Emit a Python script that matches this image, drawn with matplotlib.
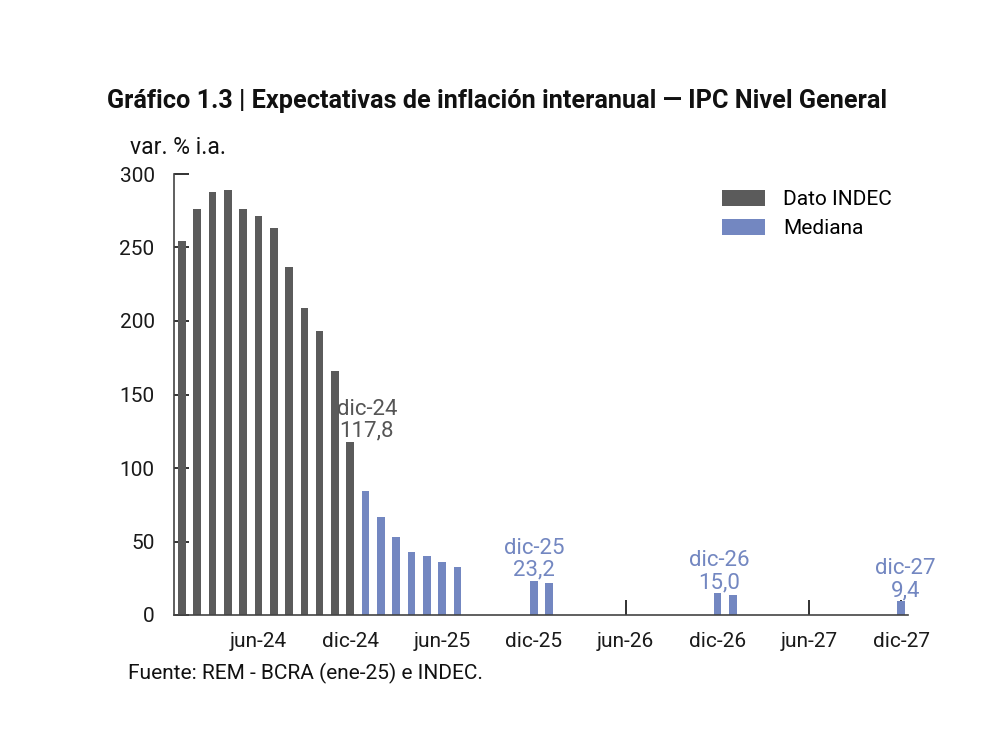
import numpy as np
import pandas as pd
import matplotlib
matplotlib.use("Agg")
import matplotlib.pyplot as plt
from matplotlib.patches import Patch

plt.rcParams["font.family"] = ["Roboto", "DejaVu Sans"]

# Dato INDEC, ene-24 a dic-24
indec_months = ["2024-01", "2024-02", "2024-03", "2024-04", "2024-05", "2024-06",
                "2024-07", "2024-08", "2024-09", "2024-10", "2024-11", "2024-12"]
indec_vals = [254.2, 276.2, 287.9, 289.4, 276.4, 271.5, 263.4, 236.7, 209.0, 193.0, 166.0, 117.8]

# Mediana REM
rem_months = ["2025-01", "2025-02", "2025-03", "2025-04", "2025-05", "2025-06", "2025-07",
              "2025-12", "2026-01", "2026-12", "2027-01", "2027-12"]
rem_vals = [84.5, 66.8, 53.2, 43.0, 40.1, 36.2, 32.8, 23.2, 22.0, 15.0, 13.8, 9.4]

tick_months = ["2024-06", "2024-12", "2025-06", "2025-12", "2026-06", "2026-12", "2027-06", "2027-12"]
tick_labels = ["jun-24", "dic-24", "jun-25", "dic-25", "jun-26", "dic-26", "jun-27", "dic-27"]

# etiquetas sobre barras: (mes, texto, serie)
notes = [("2024-12", "dic-24\n117,8", "indec"),
         ("2025-12", "dic-25\n23,2", "rem"),
         ("2026-12", "dic-26\n15,0", "rem"),
         ("2027-12", "dic-27\n9,4", "rem")]

GRAY = "#5b5b5b"
BLUE = "#7387c1"

base = pd.Period("2024-01", freq="M")


def mi(s):
    return (pd.Period(s, freq="M") - base).n


x_indec = np.array([mi(m) for m in indec_months])
x_rem = np.array([mi(m) for m in rem_months])
x_ticks = [mi(m) for m in tick_months]

fig = plt.figure(figsize=(9.92, 7.44), dpi=100)
ax = fig.add_axes([174 / 992, 1 - 615 / 744, 734 / 992, 441 / 744])

ax.bar(x_indec, indec_vals, width=0.5, color=GRAY, zorder=2)
ax.bar(x_rem, rem_vals, width=0.5, color=BLUE, zorder=2)

ax.set_xlim(-0.52, 47.45)
ax.set_ylim(0, 300)
ax.set_yticks(np.arange(0, 301, 50))
ax.set_xticks(x_ticks)
ax.set_xticklabels(tick_labels)

for s in ["top", "right"]:
    ax.spines[s].set_visible(False)
for s in ["left", "bottom"]:
    ax.spines[s].set_color("#444444")
    ax.spines[s].set_linewidth(1.2)
    ax.spines[s].set_zorder(3)

ax.tick_params(axis="both", direction="in", length=10.5, width=1.3, color="#222222",
               labelsize=15, labelcolor="#1a1a1a")
ax.tick_params(axis="y", pad=14)
ax.tick_params(axis="x", pad=12)
for t in ax.xaxis.get_major_ticks() + ax.yaxis.get_major_ticks():
    t.tick1line.set_zorder(4)

lookup = dict(zip(indec_months, indec_vals))
lookup.update(dict(zip(rem_months, rem_vals)))
offsets = {"2024-12": 12, "2025-12": 0, "2026-12": 1, "2027-12": 3}
for m, txt, serie in notes:
    col = "#555555" if serie == "indec" else BLUE
    ax.annotate(txt, xy=(mi(m), lookup[m]), xytext=(offsets[m], 0), textcoords="offset points",
                ha="center", va="bottom", fontsize=16, color=col, linespacing=1.05, zorder=5)

handles = [Patch(facecolor=GRAY, label="Dato INDEC"), Patch(facecolor=BLUE, label="Mediana")]
fig.legend(handles=handles, loc="upper left", bbox_to_anchor=(722 / 992, 1 - 190 / 744),
           frameon=False, fontsize=15, handlelength=2.07, handleheight=0.82,
           handletextpad=0.87, labelspacing=0.45, borderpad=0, borderaxespad=0)

fig.text(107 / 992, 1 - 101 / 744,
         "Gráfico 1.3 | Expectativas de inflación interanual — IPC Nivel General",
         fontsize=18.2, fontweight="bold", va="center", ha="left", color="#111111")
fig.text(130 / 992, 1 - 147 / 744, "var. % i.a.", fontsize=16.5, va="center", color="#111111")
fig.text(128 / 992, 1 - 673 / 744, "Fuente: REM - BCRA (ene-25) e INDEC.", fontsize=15,
         va="center", color="#111111")

fig.savefig("out.png", dpi=100)
